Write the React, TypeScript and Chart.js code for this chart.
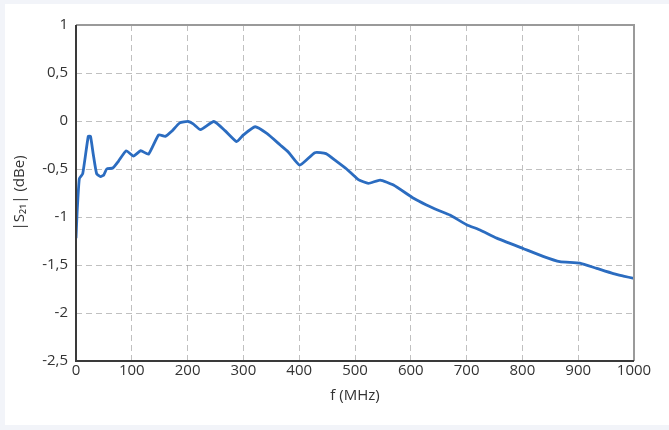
import React, { useEffect, useRef } from "react";
import { Chart, registerables } from "chart.js";

Chart.register(...registerables);

const freqMHz = [0, 2, 6, 12, 22, 26, 31, 37, 44, 50, 55, 66, 76, 90, 103, 116, 130, 148, 160, 171, 186, 201, 210, 223, 247, 267, 288, 300, 321, 342, 366, 380, 401, 428, 448, 467, 485, 506, 524, 545, 569, 605, 628, 649, 670, 700, 724, 754, 802, 837, 867, 903, 933, 963, 981, 1000];
const s21dBe = [-1.22, -0.95, -0.6, -0.55, -0.16, -0.16, -0.35, -0.55, -0.58, -0.56, -0.5, -0.49, -0.42, -0.31, -0.365, -0.31, -0.345, -0.145, -0.16, -0.11, -0.02, -0.005, -0.03, -0.09, -0.005, -0.1, -0.215, -0.145, -0.06, -0.13, -0.25, -0.32, -0.46, -0.33, -0.34, -0.42, -0.5, -0.61, -0.65, -0.615, -0.667, -0.805, -0.875, -0.93, -0.98, -1.08, -1.135, -1.22, -1.33, -1.41, -1.465, -1.48, -1.535, -1.59, -1.615, -1.64];

const xTitle = "f (MHz)";
const yTitle = "|S\u2082\u2081| (dBe)";

const frame = {
  id: "frame",
  afterDraw(chart: any) {
    const { ctx, chartArea } = chart;
    ctx.save();
    ctx.strokeStyle = "#9a9a9a";
    ctx.lineWidth = 2;
    ctx.beginPath();
    ctx.moveTo(chartArea.left, chartArea.top);
    ctx.lineTo(chartArea.right, chartArea.top);
    ctx.lineTo(chartArea.right, chartArea.bottom);
    ctx.stroke();
    ctx.strokeStyle = "#3a3a3a";
    ctx.beginPath();
    ctx.moveTo(chartArea.left, chartArea.top);
    ctx.lineTo(chartArea.left, chartArea.bottom);
    ctx.lineTo(chartArea.right, chartArea.bottom);
    ctx.stroke();
    ctx.restore();
  },
};

export default function App() {
  const ref = useRef<HTMLCanvasElement>(null);
  useEffect(() => {
    if (!ref.current) return;
    const points = freqMHz.map((f, i) => ({ x: f, y: s21dBe[i] }));
    const font = { family: "'Open Sans', sans-serif", size: 15 };
    const titleFont = { family: "'Open Sans', sans-serif", size: 15 };
    const chart = new Chart(ref.current, {
      type: "line",
      data: {
        datasets: [
          {
            data: points,
            borderColor: "#2b6cc0",
            borderWidth: 2.8,
            pointRadius: 0,
            tension: 0.15,
            fill: false,
          },
        ],
      },
      options: {
        animation: false,
        responsive: false,
        layout: { padding: { top: 25, right: 35, left: 11, bottom: 0 } },
        plugins: { legend: { display: false }, tooltip: { enabled: false } },
        scales: {
          x: {
            type: "linear",
            min: 0,
            max: 1000,
            afterFit: (s: any) => {
              s.height = 69;
            },
            ticks: {
              stepSize: 100,
              color: "#333",
              font,
              padding: 1,
              maxRotation: 0,
              callback: (v: any) => String(Number(v)),
            },
            grid: { color: "rgba(150,150,150,0.6)", drawTicks: false, lineWidth: 1 },
            border: { display: false, dash: [6, 4] },
            title: { display: true, text: xTitle, color: "#333", font: titleFont, padding: { top: 4, bottom: 25 } },
          },
          y: {
            type: "linear",
            min: -2.5,
            max: 1,
            afterFit: (s: any) => {
              s.width = 65;
            },
            ticks: {
              stepSize: 0.5,
              color: "#333",
              font,
              padding: 8,
              callback: (v: any) => String(Number(v)).replace(".", ","),
            },
            grid: { color: "rgba(150,150,150,0.6)", drawTicks: false, lineWidth: 1 },
            border: { display: false, dash: [6, 4] },
            title: { display: true, text: yTitle, color: "#333", font: titleFont, padding: { top: 0, bottom: 0 } },
          },
        },
      },
      plugins: [frame],
    });
    return () => chart.destroy();
  }, []);
  return (
    <div style={{ position: "fixed", left: 0, top: 0, width: 669, height: 430, background: "#f2f4f9" }}>
      <div style={{ position: "absolute", left: 5, top: 4, width: 664, height: 421, background: "#ffffff" }} />
      <canvas ref={ref} width={669} height={430} style={{ position: "absolute", left: 0, top: 0, width: 669, height: 430 }} />
    </div>
  );
}
